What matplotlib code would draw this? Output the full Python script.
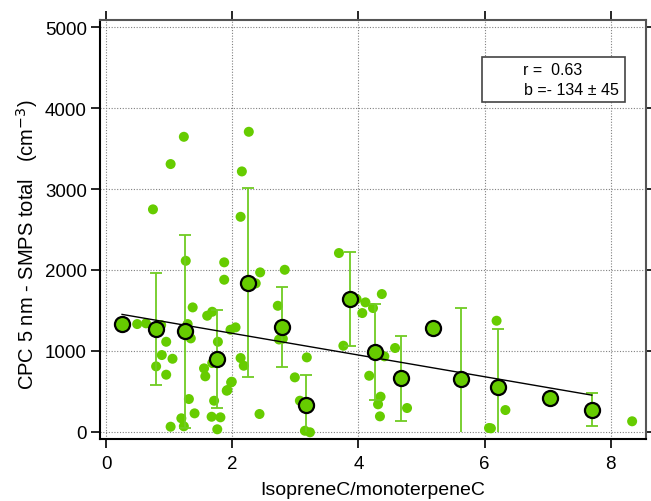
import numpy as np
import matplotlib
matplotlib.use("Agg")
import matplotlib.pyplot as plt
from matplotlib.patches import Rectangle

plt.rcParams['font.family'] = ['Liberation Sans', 'DejaVu Sans']

# individual samples
ratio = [0.74, 1.23, 1.02, 2.26, 2.15, 2.13, 1.26, 1.87, 1.87, 2.44, 2.37, 2.83,
         2.72, 2.74, 2.80, 1.37, 1.60, 1.68, 0.49, 0.63, 0.87, 0.95, 0.88, 1.05,
         0.79, 0.95, 1.29, 1.34, 1.77, 1.55, 1.57, 1.68, 1.98, 1.91, 1.97, 1.31,
         1.40, 1.19, 1.23, 1.02, 1.71, 1.67, 1.81, 1.76, 2.05, 2.13, 2.18, 1.99,
         1.92, 2.43, 3.18, 2.99, 3.07, 3.23, 3.15, 3.23, 3.69, 3.97, 4.11, 4.06,
         4.23, 4.37, 3.76, 4.58, 4.41, 4.17, 4.35, 4.31, 4.34, 4.77, 6.07, 6.19,
         6.33, 6.10, 8.34]
cpc_diff = [2749, 3646, 3309, 3708, 3218, 2657, 2113, 2094, 1879, 1970, 1834, 2002,
            1557, 1140, 1150, 1537, 1434, 1483, 1331, 1340, 1319, 1112, 948, 902,
            808, 705, 1331, 1154, 1112, 783, 685, 849, 610, 507, 1261, 404,
            227, 166, 67, 62, 383, 185, 178, 30, 1290, 911, 816, 618,
            515, 219, 919, 672, 383, 314, 12, -7, 2209, 1640, 1599, 1467,
            1529, 1702, 1063, 1035, 932, 692, 433, 339, 190, 293, 46, 1372,
            268, 42, 129]

# binned means with standard deviation
bin_ratio = [0.25, 0.79, 1.25, 1.76, 2.25, 2.79, 3.16, 3.86, 4.26, 4.68, 5.18,
             5.63, 6.21, 7.04, 7.70]
bin_mean = [1327, 1273, 1241, 902, 1842, 1294, 330, 1640, 981, 660, 1278,
            651, 556, 413, 272]
bin_sd = [0, 690, 1190, 605, 1165, 500, 370, 580, 595, 525, 0,
          878, 714, 0, 203]

# linear fit of the binned means
slope = -134
slope_err = 45
intercept = 1484
r_value = 0.63

green = '#66cc00'
bar_green = '#70cc22'

fig = plt.figure(figsize=(6.51, 5.02), dpi=100)
ax = fig.add_axes([100 / 651, 62 / 502, 546 / 651, 419 / 502])

ax.scatter(ratio, cpc_diff, s=52, color=green, edgecolors='none', zorder=2)

bx = np.array(bin_ratio)
by = np.array(bin_mean)
sd = np.array(bin_sd)
has_err = sd > 0
# lower bars stop at zero, no cap where they are cut
low = np.minimum(sd, by)
ax.errorbar(bx[has_err], by[has_err], yerr=[low[has_err], sd[has_err]], fmt='none',
            ecolor=bar_green, elinewidth=1.3, capsize=0, zorder=3)
ax.plot(bx[has_err], (by + sd)[has_err], ls='none', marker='_', ms=8, mew=1.3,
        color=bar_green, zorder=3)
cut = has_err & (sd < by)
ax.plot(bx[cut], (by - sd)[cut], ls='none', marker='_', ms=8, mew=1.3,
        color=bar_green, zorder=3)

fit_x = np.array([bx.min(), bx.max()])
ax.plot(fit_x, intercept + slope * fit_x, color='black', lw=1.0, zorder=4)

ax.scatter(bx, by, s=118, color=green, edgecolors='black', linewidths=1.6, zorder=5)

ax.set_xlim(-0.1, 8.56)
ax.set_ylim(-90, 5090)
ax.set_xticks([0, 2, 4, 6, 8])
ax.set_yticks([0, 1000, 2000, 3000, 4000, 5000])
ax.grid(True, color='#808080', linestyle=(0, (1, 1.5)), linewidth=0.8)
ax.set_axisbelow(True)
ax.tick_params(axis='both', direction='out', length=6.5, width=1.2, labelsize=13.5,
               top=True, right=True, labeltop=False, labelright=False)
ax.tick_params(axis='x', pad=5)
ax.tick_params(axis='y', pad=3)
for side in ['left', 'bottom']:
    ax.spines[side].set_linewidth(1.5)
for side in ['top', 'right']:
    ax.spines[side].set_linewidth(1.5)
    ax.spines[side].set_color('#555555')

ax.set_xlabel('IsopreneC/monoterpeneC', fontsize=14)
ax.set_ylabel('CPC 5 nm - SMPS total   (cm$^{-3}$)', fontsize=14.5)
ax.xaxis.set_label_coords(0.5, -0.1)
ax.yaxis.set_label_coords(-0.11, 0.465)

# fit summary box
ax.add_patch(Rectangle((0.70, 0.804), 0.2615, 0.1077, transform=ax.transAxes,
                       facecolor='white', edgecolor='#444444', lw=1.2, zorder=6))
ax.text(0.775, 0.883, f'r =  {r_value:.2f}', transform=ax.transAxes,
        fontsize=11.5, va='center', ha='left', zorder=7)
ax.text(0.777, 0.833, f'b =- {abs(slope)} \u00b1 {slope_err}', transform=ax.transAxes,
        fontsize=11.5, va='center', ha='left', zorder=7)

fig.savefig('out.png', dpi=100)
